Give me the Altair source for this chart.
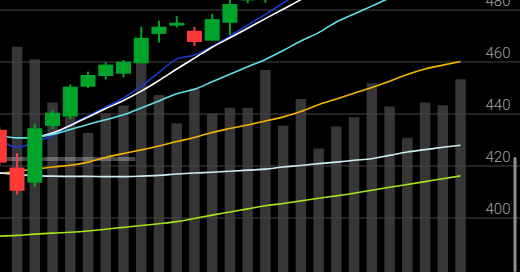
import altair as alt
import pandas as pd

# ---- price candles (index 0 = first full candle on screen) ----
candle_idx = [-1, 0, 1, 2, 3, 4, 5, 6, 7, 8, 9, 10, 11, 12, 13, 14]
opens  = [433.9, 419.4, 413.6, 435.4, 439.0, 450.5, 454.6, 455.5, 459.5, 470.8, 474.0, 472.0, 468.2, 475.1, 483.7, 485.0]
closes = [421.3, 410.5, 434.5, 440.5, 450.5, 455.0, 459.0, 460.1, 469.3, 473.6, 475.1, 467.7, 476.5, 482.3, 490.0, 492.0]
highs  = [435.0, 424.9, 436.2, 441.5, 451.4, 456.3, 459.9, 460.8, 473.6, 475.9, 477.7, 473.6, 478.5, 484.0, 492.0, 494.0]
lows   = [420.0, 409.1, 412.0, 434.2, 438.1, 449.9, 453.3, 454.1, 459.5, 467.5, 473.3, 466.2, 468.2, 470.4, 482.6, 482.8]

# ---- volume (millions) ----
vol_idx = list(range(26))
volumes = [82.8, 78.2, 62.3, 57.0, 51.1, 58.3, 61.2, 76.8, 65.1, 54.7, 67.5, 58.3, 60.4,
           60.4, 74.3, 53.8, 63.6, 45.4, 53.5, 56.9, 69.4, 60.8, 49.4, 62.3, 61.3, 70.9]

# ---- moving averages ----
ma_idx = list(range(-1, 26))
ma_blue = [430.4, 427.2, 429.2, 431.7, 435.8, 439.2, 442.7, 446.2, 450.6, 456.0, 461.1, 462.7,
           466.0, 470.0, 474.2, 478.3, 482.7, 486.9, 490.5]
ma_white = [None, None, 431.0, 432.7, 435.6, 438.8, 442.1, 445.2, 448.8, 452.9, 457.3, 461.5,
            465.7, 469.3, 473.0, 476.7, 480.3, 484.0, 487.5]
ma_cyan = [431.9, 430.8, 431.0, 432.1, 434.0, 436.0, 437.8, 439.7, 442.3, 445.0, 447.8, 449.5,
           452.4, 455.3, 458.2, 461.0, 464.4, 468.1, 471.3, 475.4, 478.5, 481.5, 484.6, 487.5]
ma_orange = [417.1, 418.0, 418.8, 419.6, 420.3, 421.5, 423.3, 424.8, 426.2, 427.7, 429.4, 431.0,
             432.9, 434.4, 435.8, 437.3, 438.9, 441.0, 443.6, 445.8, 448.0, 450.2, 452.6, 455.2,
             457.3, 458.8, 460.2]
ma_pale = [417.4, 416.7, 416.3, 416.1, 416.0, 416.0, 415.9, 415.9, 416.1, 416.4, 416.9, 417.3,
           417.6, 418.0, 418.4, 418.8, 419.6, 420.2, 420.9, 421.5, 422.2, 422.8, 424.1, 425.4,
           426.3, 427.2, 428.0]
ma_lime = [393.0, 393.3, 393.8, 394.2, 394.5, 395.0, 395.7, 396.4, 397.1, 397.8, 398.6, 399.8,
           401.1, 402.3, 403.5, 404.7, 405.6, 406.6, 407.6, 408.5, 409.5, 410.7, 411.8, 412.9,
           414.0, 415.1, 416.2]

price_ticks = [400, 420, 440, 460, 480]

# highlighted price level band
band_start, band_end = -0.68, 6.67
band_lo, band_hi = 421.9, 423.5

W, H = 520, 272
x_scale = alt.Scale(domain=[-0.68, 28.07], nice=False, zero=False)
y_scale = alt.Scale(domain=[379.23, 483.85], nice=False, zero=False)
v_scale = alt.Scale(domain=[0, 100], nice=False)

candles = pd.DataFrame({"i": candle_idx, "open": opens, "close": closes,
                        "high": highs, "low": lows})
candles["dir"] = ["up" if c >= o else "down" for o, c in zip(opens, closes)]
vol_df = pd.DataFrame({"i": vol_idx, "vol": volumes})

series = [("blue", ma_blue, "#1a3ad8"), ("white", ma_white, "#ffffff"),
          ("cyan", ma_cyan, "#5fe2e6"), ("orange", ma_orange, "#f4b400"),
          ("pale", ma_pale, "#cdeef0"), ("lime", ma_lime, "#a4e61a")]
rows = []
for name, vals, _ in series:
    for i, v in zip(ma_idx, vals):
        if v is not None:
            rows.append({"i": i, "v": v, "ma": name})
ma_df = pd.DataFrame(rows)

X = alt.X("i:Q", scale=x_scale, axis=None)

volume = alt.Chart(vol_df).mark_bar(size=10.5, color="#363636", clip=True).encode(
    x=X, y=alt.Y("vol:Q", scale=v_scale, axis=None))

grid = alt.Chart(pd.DataFrame({"p": price_ticks})).mark_rule(
    color="#454545", strokeWidth=1).encode(
    y=alt.Y("p:Q", scale=y_scale,
            axis=alt.Axis(orient="right", values=price_ticks, grid=False, domain=False,
                          ticks=False, tickSize=0, labelPadding=-10, labelAlign="right",
                          labelBaseline="alphabetic", labelOffset=-5, labelFontSize=15,
                          labelFont="Roboto", labelFontWeight=300, labelColor="#a6a6a6",
                          labelBound=False, labelFlush=False, labelOverlap=False, title=None)))

band = alt.Chart(pd.DataFrame({"a": [band_start], "b": [band_end],
                               "lo": [band_lo], "hi": [band_hi]})).mark_rect(
    color="#ffffff", opacity=0.28, clip=True).encode(
    x=alt.X("a:Q", scale=x_scale, axis=None), x2="b:Q",
    y=alt.Y("hi:Q", scale=y_scale, axis=None), y2="lo:Q")

lines = alt.Chart(ma_df).mark_line(strokeWidth=1.6, clip=True, interpolate="monotone").encode(
    x=X, y=alt.Y("v:Q", scale=y_scale, axis=None),
    color=alt.Color("ma:N", legend=None,
                    scale=alt.Scale(domain=[s[0] for s in series],
                                    range=[s[2] for s in series])),
    detail="ma:N")

dir_color = alt.Color("dir:N", legend=None,
                      scale=alt.Scale(domain=["up", "down"], range=["#01a42a", "#ff3838"]))

wicks = alt.Chart(candles).mark_rule(strokeWidth=2, clip=True).encode(
    x=X, y=alt.Y("low:Q", scale=y_scale, axis=None), y2="high:Q", color=dir_color)

bodies = alt.Chart(candles).mark_bar(size=15, clip=True).encode(
    x=X, y=alt.Y("open:Q", scale=y_scale, axis=None), y2="close:Q",
    color=dir_color)

scrollbar = alt.Chart(alt.Data(values=[{}])).mark_rect(
    color="#8e8e8e", cornerRadius=1.5).encode(
    x=alt.value(513.5), x2=alt.value(516.5), y=alt.value(157), y2=alt.value(272))

chart = alt.layer(volume, grid, band, lines, wicks, bodies, scrollbar).resolve_scale(
    y="independent", color="independent").properties(
    width=W, height=H, padding=0, autosize=alt.AutoSizeParams(type="none"),
    background="#000000").configure_view(strokeWidth=0)

chart.save("out.html", embed_options={"renderer": "svg", "actions": False})
